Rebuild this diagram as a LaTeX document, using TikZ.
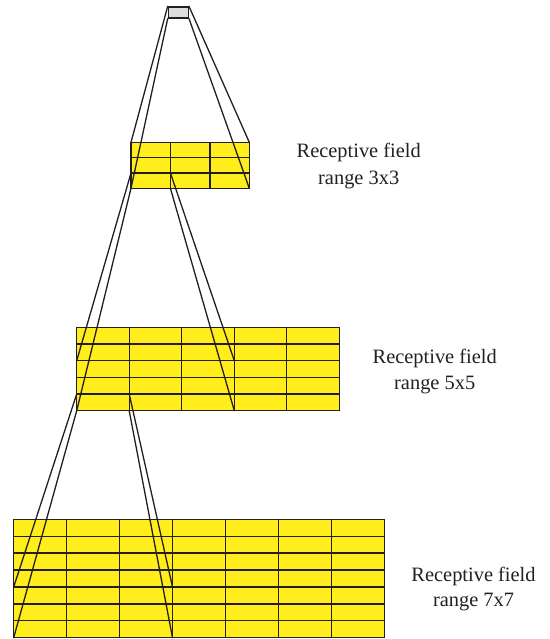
\documentclass[tikz,border=0pt]{standalone}
\usepackage{fontspec}
\setmainfont{Liberation Serif}
\definecolor{fieldyellow}{HTML}{FFED1C}
\definecolor{unitgray}{HTML}{DCDDDE}
\definecolor{inkline}{HTML}{231F20}
\tikzset{
  gridline/.style={draw=inkline, line width=1.3pt},
  projline/.style={draw=inkline, line width=1.3pt, line cap=round},
  caption/.style={font=\fontsize{20.4}{26}\selectfont, text=inkline, anchor=base, inner sep=0pt},
}
% yellow grid: left, top, right, bottom, columns, rows
\newcommand\fieldgrid[6]{%
  \fill[fieldyellow] (#1,#2) rectangle (#3,#4);
  \foreach \i in {0,...,#5}{\draw[gridline] ({#1+\i*(#3-#1)/#5},#2) -- ({#1+\i*(#3-#1)/#5},#4);}
  \foreach \j in {0,...,#6}{\draw[gridline] (#1,{#2+\j*(#4-#2)/#6}) -- (#3,{#2+\j*(#4-#2)/#6});}
  \draw[gridline] (#1,#2) rectangle (#3,#4);
}
\begin{document}
\begin{tikzpicture}[x=1pt,y=-1pt]
\useasboundingbox (0,0) rectangle (549,639);

% the three feature maps
\fieldgrid{131}{142.3}{249.3}{188.3}{3}{3}
\fieldgrid{76.7}{327.3}{339.3}{410.7}{5}{5}
\fieldgrid{13.7}{519.3}{384.3}{637.7}{7}{7}

% output unit
\node[draw=inkline, fill=unitgray, line width=1.3pt, minimum width=20pt, minimum height=11pt, inner sep=0pt, anchor=north west] (unit) at (167.7,6.3) {};

% corners of the projected cells and of their receptive regions
\coordinate (a1) at (131,142.3);   \coordinate (a2) at (249.3,142.3);
\coordinate (a3) at (131,188.3);   \coordinate (a4) at (249.3,188.3);

\coordinate (c1tl) at (131,173);   \coordinate (c1tr) at (170.4,173);
\coordinate (c1bl) at (131,188.3); \coordinate (c1br) at (170.4,188.3);
\coordinate (b1) at (76.7,360.7);  \coordinate (b2) at (234.3,360.7);
\coordinate (b3) at (76.7,410.7);  \coordinate (b4) at (234.3,410.7);

\coordinate (c2tl) at (76.7,394.0); \coordinate (c2tr) at (129.2,394.0);
\coordinate (c2bl) at (76.7,410.7); \coordinate (c2br) at (129.2,410.7);
\coordinate (d1) at (13.7,586.9);  \coordinate (d2) at (172.5,586.9);
\coordinate (d3) at (13.7,637.7);  \coordinate (d4) at (172.5,637.7);

% projection lines
\draw[projline] (unit.north west) -- (a1);
\draw[projline] (unit.south west) -- (a3);
\draw[projline] (unit.north east) -- (a2);
\draw[projline] (unit.south east) -- (a4);

\draw[projline] (c1tl) -- (b1);
\draw[projline] (c1bl) -- (b3);
\draw[projline] (c1tr) -- (b2);
\draw[projline] (c1br) -- (b4);

\draw[projline] (c2tl) -- (d1);
\draw[projline] (c2bl) -- (d3);
\draw[projline] (c2tr) -- (d2);
\draw[projline] (c2br) -- (d4);

% captions
\node[caption] (l1a) at (358.7,158) {Receptive field};
\node[caption] (l1b) at (358.7,184.3) {range 3x3};
\node[caption] (l2a) at (434.7,363.3) {Receptive field};
\node[caption] (l2b) at (434.7,389.3) {range 5x5};
\node[caption] (l3a) at (473.5,581) {Receptive field};
\node[caption] (l3b) at (473.5,606.5) {range 7x7};
\end{tikzpicture}
\end{document}
